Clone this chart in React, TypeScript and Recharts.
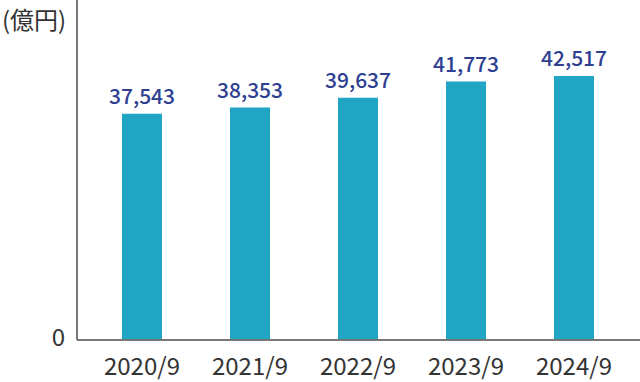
import { Bar, BarChart, LabelList, XAxis, YAxis } from 'recharts'

// 売上収益（億円）
const periods = ['2020/9', '2021/9', '2022/9', '2023/9', '2024/9']
const revenue = [37543, 38353, 39637, 41773, 42517]

// 軸は途中省略（下端を「0」と表示）
const Y_MIN = 7800
const Y_MAX = 52500

const FONT = '"Noto Sans CJK JP", "Noto Sans", sans-serif'

const data = periods.map((p, i) => ({ period: p, value: revenue[i] }))

export default function App() {
  return (
    <div style={{ position: 'absolute', left: 0, top: 0, fontFamily: FONT }}>
      <BarChart
        width={640}
        height={382}
        data={data}
        margin={{ top: 0, right: 0, bottom: 0, left: 0 }}
      >
        <XAxis
          dataKey="period"
          height={42}
          padding={{ left: 11, right: 12 }}
          axisLine={{ stroke: '#777', strokeWidth: 2 }}
          tickLine={false}
          tickSize={0}
          tickMargin={18}
          tick={{ fill: '#333', fontSize: 24, fontFamily: FONT }}
        />
        <YAxis
          width={77}
          domain={[Y_MIN, Y_MAX]}
          ticks={[Y_MIN]}
          tickFormatter={() => '0'}
          axisLine={{ stroke: '#777', strokeWidth: 2 }}
          tickLine={false}
          tickSize={0}
          tickMargin={12}
          tick={{ fill: '#333', fontSize: 24, fontFamily: FONT, dy: -3 }}
          label={{
            value: '(億円)',
            position: 'insideTopLeft',
            offset: 2,
            dy: 10,
            fill: '#333',
            fontSize: 24,
            fontFamily: FONT,
          }}
        />
        <Bar dataKey="value" fill="#20a6c4" barSize={40} isAnimationActive={false}>
          <LabelList
            dataKey="value"
            position="top"
            offset={10}
            formatter={(v: number) => v.toLocaleString('en-US')}
            fill="#2e3f92"
            fontSize={21}
            fontWeight={500}
            fontFamily={FONT}
          />
        </Bar>
      </BarChart>
    </div>
  )
}
